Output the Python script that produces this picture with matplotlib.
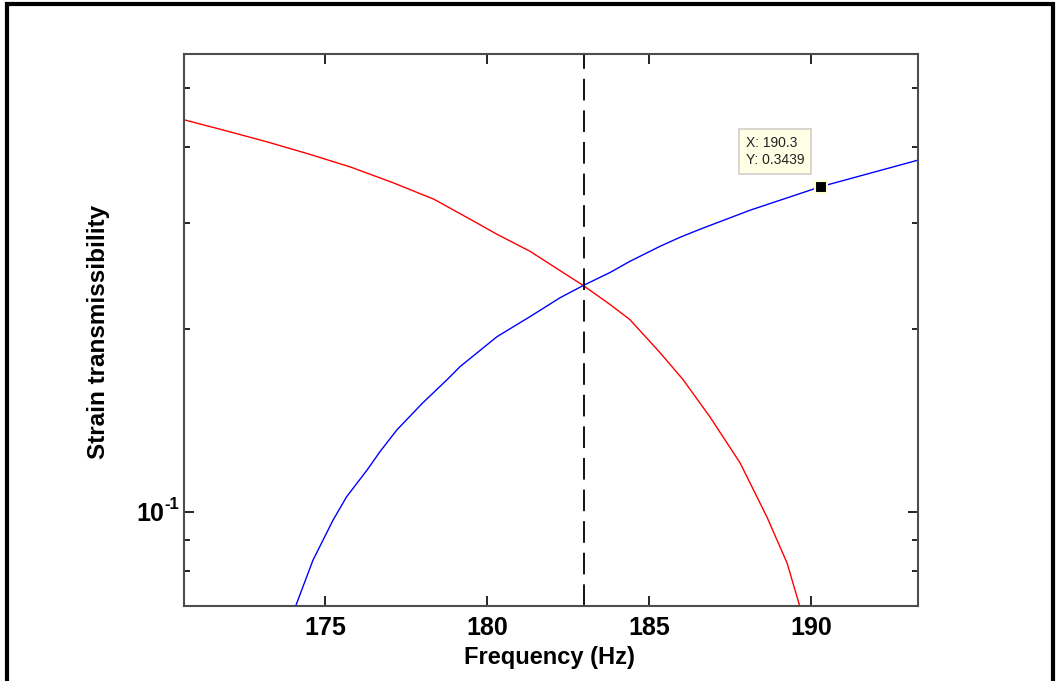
import numpy as np
import matplotlib
matplotlib.use("Agg")
import matplotlib.pyplot as plt
from matplotlib.lines import Line2D
from matplotlib.ticker import FixedLocator, NullFormatter

# Frequency sweep (Hz) and strain transmissibility for the two responses
freq_red = [170.65, 171.94, 173.21, 174.51, 175.80, 177.08, 178.36, 179.48,
            180.31, 181.33, 182.97, 183.80, 184.41, 185.34, 186.05, 186.88,
            187.81, 188.64, 189.26, 189.66]
trans_red = [0.4433, 0.4252, 0.4077, 0.3891, 0.3703, 0.3494, 0.3279, 0.3039,
             0.2870, 0.2690, 0.2363, 0.2198, 0.2076, 0.1831, 0.1653, 0.1435,
             0.1205, 0.0981, 0.0824, 0.0697]

freq_blue = [174.07, 174.63, 175.25, 175.67, 176.30, 176.70, 177.22, 178.02,
             178.77, 179.17, 180.31, 181.33, 182.25, 182.97, 183.80, 184.41,
             185.34, 185.96, 186.57, 188.12, 190.30, 193.30]
trans_blue = [0.0694, 0.0833, 0.0970, 0.1060, 0.1173, 0.1258, 0.1366, 0.1514,
              0.1653, 0.1737, 0.1946, 0.2100, 0.2255, 0.2363, 0.2483, 0.2590,
              0.2742, 0.2838, 0.2925, 0.3145, 0.3439, 0.3803]

crossing_freq = 183.0
tip_x, tip_y = 190.3, 0.3439

x_ticks = [175, 180, 185, 190]
y_major_tick = 0.1
y_minor_ticks = [0.08, 0.09, 0.2, 0.3, 0.4, 0.5]

plt.rcParams['font.family'] = ['Liberation Sans', 'DejaVu Sans']

W, H = 1059, 681
fig = plt.figure(figsize=(W / 100, H / 100), dpi=100)
fig.patch.set_facecolor('white')

ax = fig.add_axes([184 / W, 1 - 606 / H, (918 - 184) / W, (606 - 54) / H])
ax.set_yscale('log')

ax.plot(freq_red, trans_red, color='#ff0000', lw=1.0)
ax.plot(freq_blue, trans_blue, color='#0000ff', lw=1.0)
ax.axvline(crossing_freq, color='black', lw=1.3, dashes=(12, 5.5))

ax.set_xlim(170.65, 193.3)
ax.set_ylim(0.07, 0.569)

ax.set_xticks(x_ticks)
ax.set_xticklabels([str(t) for t in x_ticks])
ax.yaxis.set_major_locator(FixedLocator([y_major_tick]))
ax.yaxis.set_major_formatter(NullFormatter())
ax.yaxis.set_minor_locator(FixedLocator(y_minor_ticks))
ax.yaxis.set_minor_formatter(NullFormatter())
ax.xaxis.set_minor_locator(FixedLocator([]))

ax.tick_params(axis='both', which='major', direction='in', length=7, width=1.2,
               color='black', top=True, right=True, labelsize=18, pad=7)
ax.tick_params(axis='y', which='minor', direction='in', length=4, width=1.2,
               color='black', left=True, right=True)
for lbl in ax.get_xticklabels():
    lbl.set_fontweight('bold')

# Power-of-ten label for the single major y tick
ax.annotate('10', xy=(0, y_major_tick), xycoords=('axes fraction', 'data'),
            xytext=(-20, -2), textcoords='offset pixels', ha='right', va='center',
            fontsize=18, fontweight='bold')
ax.annotate('-1', xy=(0, y_major_tick), xycoords=('axes fraction', 'data'),
            xytext=(-20, 8), textcoords='offset pixels', ha='left', va='center',
            fontsize=12, fontweight='bold')

for sp in ax.spines.values():
    sp.set_color('#4d4d4d')
    sp.set_linewidth(1.5)

ax.set_xlabel('Frequency (Hz)', fontsize=17, fontweight='bold')
ax.xaxis.set_label_coords(0.498, -0.094)
ax.xaxis.label.set_va('center')
ax.set_ylabel('Strain transmissibility', fontsize=17.5, fontweight='bold')
ax.yaxis.set_label_coords(-0.117, 0.497)
ax.yaxis.label.set_va('center')

# Data cursor at the selected point
ax.plot([tip_x], [tip_y], marker='s', markersize=8, color='black',
        markeredgecolor='#ffffd8', markeredgewidth=1.5, zorder=5)
ax.annotate(f'X: {tip_x}\nY: {tip_y}', xy=(tip_x, tip_y),
            xytext=(-75, 51), textcoords='offset pixels',
            ha='left', va='top', fontsize=10, color='#222222',
            linespacing=1.35,
            bbox=dict(boxstyle='square,pad=0.5', fc='#ffffe6', ec='#d0d0c8', lw=1.2),
            zorder=6)

# Figure frame
frame_kw = dict(color='black', lw=3, transform=fig.transFigure, solid_capstyle='butt')
fig.add_artist(Line2D([6.5 / W, 6.5 / W], [0, 1 - 2 / H], **frame_kw))
fig.add_artist(Line2D([5 / W, 1054 / W], [1 - 3.5 / H, 1 - 3.5 / H], **frame_kw))
fig.add_artist(Line2D([1053 / W, 1053 / W], [0, 1 - 2 / H], **frame_kw))

fig.savefig('out.png', dpi=100)
